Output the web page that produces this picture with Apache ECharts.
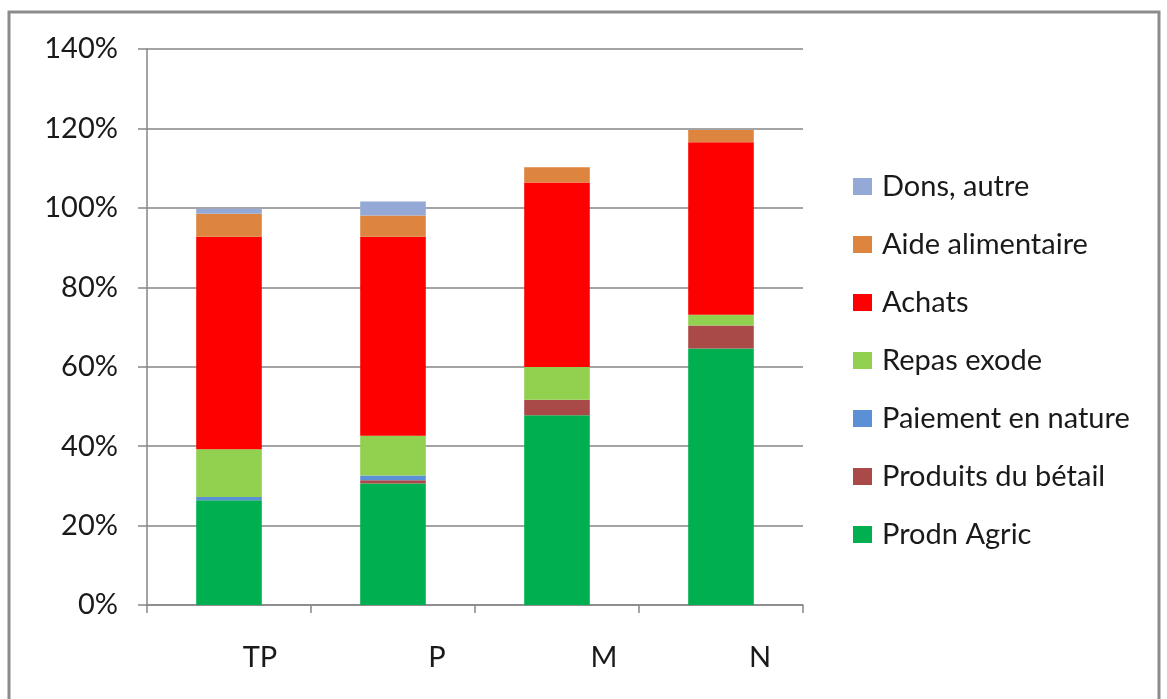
<!DOCTYPE html>
<html>
<head>
<meta charset="utf-8">
<script src="https://cdn.jsdelivr.net/npm/echarts@6/dist/echarts.min.js"></script>
<style>
  html, body { margin: 0; padding: 0; background: #fff; }
  #chart { width: 1167px; height: 699px; }
</style>
</head>
<body>
<div id="chart"></div>
<script>
// Food sources by wealth group (share of needs covered)
const categories = ['TP', 'P', 'M', 'N'];
const prodnAgric = [26.4, 30.6, 47.8, 64.6];
const produitsBetail = [0, 0.8, 3.9, 5.8];
const paiementNature = [0.8, 1.2, 0, 0];
const repasExode = [12.0, 10.0, 8.2, 2.7];
const achats = [53.5, 50.1, 46.5, 43.4];
const aideAlimentaire = [5.8, 5.4, 3.8, 3.1];
const donsAutre = [1.3, 3.5, 0, 0];
const yTicks = [0, 20, 40, 60, 80, 100, 120, 140];

const seriesDefs = [
  { name: 'Prodn Agric', data: prodnAgric, color: '#00B050' },
  { name: 'Produits du bétail', data: produitsBetail, color: '#AA4A48' },
  { name: 'Paiement en nature', data: paiementNature, color: '#5B8FD6' },
  { name: 'Repas exode', data: repasExode, color: '#92D050' },
  { name: 'Achats', data: achats, color: '#FF0000' },
  { name: 'Aide alimentaire', data: aideAlimentaire, color: '#DD843E' },
  { name: 'Dons, autre', data: donsAutre, color: '#94A9D5' }
];

const font = 'Lato, "Open Sans", sans-serif';
const fontSize = 29;
const textColor = '#1a1a1a';

// Category labels sit to the right of their bars; each gets its own left padding
const labelShift = { TP: 62, P: 88, M: 94, N: 78 };
const labelRich = {};
categories.forEach((c, i) => {
  labelRich['c' + i] = {
    fontFamily: font, fontSize: fontSize, color: textColor,
    padding: [0, 0, 0, labelShift[c]]
  };
});

const chart = echarts.init(document.getElementById('chart'));

chart.setOption({
  animation: false,
  backgroundColor: '#fff',
  graphic: [{
    type: 'rect',
    shape: { x: 9, y: 12, width: 1150, height: 720 },
    style: { fill: 'none', stroke: '#8c8c8c', lineWidth: 3 },
    silent: true
  }],
  grid: { left: 147, right: 364, top: 49, bottom: 94, containLabel: false },
  legend: {
    orient: 'vertical',
    left: 853,
    top: 172,
    padding: 0,
    itemWidth: 19,
    itemHeight: 17,
    itemGap: 29,
    icon: 'rect',
    data: seriesDefs.map(s => s.name).reverse(),
    textStyle: { fontFamily: font, fontSize: fontSize, lineHeight: 29, color: textColor, padding: [0, 0, 0, 5] }
  },
  xAxis: {
    type: 'category',
    data: categories,
    axisLine: { lineStyle: { color: '#868686', width: 1.5 } },
    axisTick: { show: true, length: 8, lineStyle: { color: '#868686', width: 1.5 } },
    axisLabel: {
      margin: 38,
      formatter: (v, i) => '{c' + i + '|' + v + '}',
      rich: labelRich
    }
  },
  yAxis: {
    type: 'value',
    min: 0,
    max: 140,
    interval: 20,
    axisLine: { show: true, lineStyle: { color: '#868686', width: 1.5 } },
    axisTick: { show: true, length: 9, lineStyle: { color: '#868686', width: 1.5 } },
    splitLine: { show: true, lineStyle: { color: '#868686', width: 1.5 } },
    axisLabel: {
      fontFamily: font, fontSize: fontSize, color: textColor, margin: 29,
      formatter: v => (yTicks.includes(v) ? v + '%' : '')
    }
  },
  series: seriesDefs.map(s => ({
    name: s.name,
    type: 'bar',
    stack: 'total',
    barWidth: '40%',
    data: s.data,
    itemStyle: { color: s.color }
  }))
});
</script>
</body>
</html>
